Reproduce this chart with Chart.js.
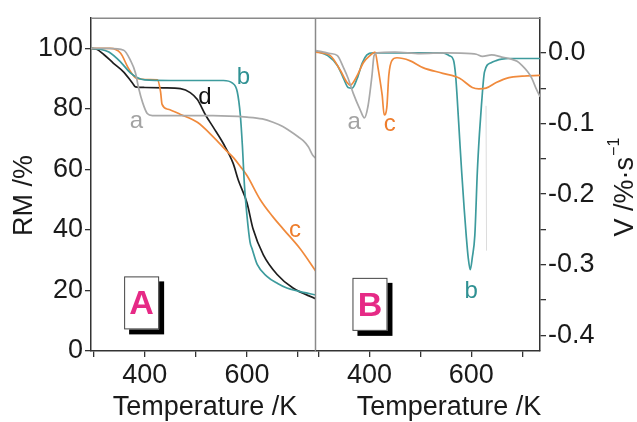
<!DOCTYPE html>
<html>
<head>
<meta charset="utf-8">
<script src="https://cdn.jsdelivr.net/npm/chart.js@4/dist/chart.umd.min.js"></script>
<style>
  body { margin: 0; background: #fff; }
  #wrap { position: relative; width: 637px; height: 422px; overflow: hidden; }
  canvas { position: absolute; top: 0; }
  #chartA { left: 0; }
  #chartB { left: 316px; }
</style>
</head>
<body>
<div id="wrap">
  <canvas id="chartA" width="320" height="422" style="width:320px;height:422px"></canvas>
  <canvas id="chartB" width="321" height="422" style="width:321px;height:422px"></canvas>
</div>
<script>
// panel A: residual mass (RM %) vs temperature (K)
const aTempA = [295, 330, 359, 372, 382, 388, 396, 405, 415, 450, 534, 600, 630, 651, 670, 684, 700, 710, 720, 729, 735];
const aRM    = [100, 100, 99.4, 96.1, 91.9, 87, 82.1, 78.5, 77.8, 77.8, 77.8, 77.3, 76.7, 75.6, 74.2, 72.7, 70.8, 69.5, 67.5, 64.6, 63.6];

const bTempA = [295, 310, 330, 353, 372, 386, 400, 450, 554, 571, 581, 587, 591, 595, 600, 606, 610, 620, 639, 660, 678, 700, 735];
const bRM    = [100, 99.8, 98.8, 95.5, 91.9, 90.3, 89.6, 89.4, 89.4, 88.6, 85.7, 78, 68, 55, 44.8, 36, 33.8, 28.6, 24.7, 22.3, 20.8, 19.8, 18.5];

const cTempA = [295, 333, 353, 368, 382, 392, 410, 425, 431, 434, 446, 470, 503, 534, 561, 573, 587, 600, 626, 650, 671, 704, 735];
const cRM    = [100, 100, 98.4, 93.5, 90.3, 89.9, 89.7, 89.6, 85.7, 81.5, 79.9, 78.2, 75.6, 70.8, 66, 64, 61, 58, 50, 44.5, 40.3, 33.8, 26.3];

const dTempA = [295, 305, 320, 339, 359, 376, 382, 400, 437, 470, 489, 503, 519, 534, 554, 573, 583, 600, 612, 632, 659, 690, 735];
const dRM    = [100, 99.8, 98, 95.1, 92.2, 88.6, 87.3, 87.1, 87, 86.7, 85.4, 83.1, 78, 74, 68.5, 62, 56.5, 49, 40.3, 31.8, 25.3, 20.8, 17.2];

// panel B: mass loss rate V (%/s) vs temperature (K)
const aTempB = [295, 310, 323, 337, 349, 358, 368, 382, 390, 397, 405, 409, 415, 450, 500, 550, 600, 610, 622, 640, 660, 674, 690, 700, 710, 719, 727, 735];
const aV     = [0.003, 0.001, -0.001, -0.004, -0.021, -0.036, -0.057, -0.081, -0.092, -0.076, -0.032, -0.004, 0, 0.001, -0.001, 0, -0.001, -0.002, -0.005, -0.003, -0.006, -0.008, -0.012, -0.018, -0.026, -0.036, -0.05, -0.062];

const bTempB = [295, 318, 337, 349, 358, 366, 376, 386, 395, 407, 450, 500, 544, 557, 565, 569, 572, 577, 581, 586, 590, 594, 598, 602, 607, 612, 616, 620, 626, 639, 649, 660, 674, 700, 735];
const bV     = [0.002, -0.004, -0.018, -0.036, -0.049, -0.05, -0.036, -0.014, -0.003, 0, 0, 0, 0, -0.004, -0.01, -0.03, -0.06, -0.12, -0.167, -0.22, -0.258, -0.29, -0.307, -0.29, -0.258, -0.167, -0.115, -0.074, -0.027, -0.014, -0.011, -0.009, -0.008, -0.008, -0.008];

const cTempB = [295, 323, 343, 356, 362, 376, 388, 401, 411, 417, 421, 425, 429, 434, 438, 444, 454, 479, 505, 544, 577, 602, 615, 629, 649, 674, 700, 735];
const cV     = [0.001, -0.004, -0.025, -0.042, -0.046, -0.032, -0.014, -0.004, 0.001, -0.022, -0.04, -0.06, -0.088, -0.078, -0.032, -0.011, -0.007, -0.011, -0.021, -0.029, -0.036, -0.049, -0.051, -0.05, -0.042, -0.035, -0.033, -0.032];

// faint vertical trace near 630 K in panel B
const traceTemp = [629, 630];
const traceV    = [-0.075, -0.28];

const xTickLabels = [400, 600];
const yTickLabelsA = [0, 20, 40, 60, 80, 100];
const yTickLabelsB = ['0.0', '-0.1', '-0.2', '-0.3', '-0.4'];

const FONT = '"Liberation Sans", Arial, Helvetica, sans-serif';
const COL = { a: '#a9a9a9', b: '#3d9b9d', c: '#f08a3c', d: '#1e1e1e' };

const pts = (xs, ys) => xs.map((x, i) => ({ x, y: ys[i] }));
const line = (data, color, w) => ({
  data, borderColor: color, borderWidth: w || 1.7, pointRadius: 0,
  cubicInterpolationMode: 'monotone', fill: false
});

const xAxis = (extra) => Object.assign({
  type: 'linear', min: 295, max: 735,
  afterFit: s => { s.height = 71; },
  ticks: {
    stepSize: 100, includeBounds: false, maxRotation: 0, autoSkip: false, padding: 2,
    color: '#1a1a1a', font: { family: FONT, size: 27 },
    callback: v => xTickLabels.includes(v) ? String(v) : ''
  },
  grid: { drawOnChartArea: false, drawTicks: true, tickLength: 6, color: '#333', lineWidth: 1.3 },
  border: { display: true, color: '#333', width: 1.5 }
}, extra);

const deco = {
  id: 'deco',
  afterDraw(chart, args, o) {
    const { ctx, chartArea: ca, scales } = chart;
    const xs = scales.x, ys = scales.y;
    ctx.save();
    // frame lines
    ctx.strokeStyle = '#8a8a8a';
    ctx.lineWidth = 1.5;
    ctx.beginPath();
    ctx.moveTo(ca.left, ca.top);
    ctx.lineTo(ca.right, ca.top);
    if (o.side === 'A') {
      ctx.moveTo(ca.right - 0.5, ca.top);
      ctx.lineTo(ca.right - 0.5, ca.bottom);
    }
    ctx.stroke();

    // curve labels
    ctx.font = '24px ' + FONT;
    ctx.textAlign = 'center';
    ctx.textBaseline = 'middle';
    o.labels.forEach(l => {
      ctx.fillStyle = l.color;
      ctx.fillText(l.text, xs.getPixelForValue(l.x), ys.getPixelForValue(l.y));
    });

    // panel letter box with shadow
    const bx = xs.getPixelForValue(o.box.x), by = ys.getPixelForValue(o.box.y);
    const w = 35, h = 53;
    ctx.fillStyle = '#000';
    ctx.fillRect(bx - w / 2 + 5, by - h / 2 + 5, w, h);
    ctx.fillStyle = '#fff';
    ctx.fillRect(bx - w / 2, by - h / 2, w, h);
    ctx.strokeStyle = '#444';
    ctx.lineWidth = 1;
    ctx.strokeRect(bx - w / 2 + 0.5, by - h / 2 + 0.5, w - 1, h - 1);
    ctx.fillStyle = '#e62a86';
    ctx.font = 'bold 34px ' + FONT;
    ctx.fillText(o.box.text, bx, by + 2);

    // axis titles
    ctx.fillStyle = '#1a1a1a';
    ctx.font = '27px ' + FONT;
    ctx.textBaseline = 'alphabetic';
    ctx.fillText('Temperature /K', o.xTitleX, 415);
    ctx.translate(o.yTitleX, (ca.top + ca.bottom) / 2 + o.yTitleDy);
    ctx.rotate(-Math.PI / 2);
    ctx.textBaseline = 'middle';
    if (o.side === 'A') {
      ctx.fillText('RM /%', 0, 0);
    } else {
      const main = 'V /%\u00b7s';
      const mw = ctx.measureText(main).width;
      ctx.font = '16px ' + FONT;
      const sw = ctx.measureText('\u22121').width;
      ctx.font = '27px ' + FONT;
      ctx.textAlign = 'left';
      ctx.fillText(main, -(mw + sw) / 2, 0);
      ctx.font = '16px ' + FONT;
      ctx.fillText('\u22121', -(mw + sw) / 2 + mw + 1, -11);
    }
    ctx.restore();
  }
};

new Chart(document.getElementById('chartA'), {
  type: 'line',
  data: {
    datasets: [
      line(pts(aTempA, aRM), COL.a),
      line(pts(bTempA, bRM), COL.b),
      line(pts(cTempA, cRM), COL.c),
      line(pts(dTempA, dRM), COL.d)
    ]
  },
  options: {
    responsive: false, animation: false,
    layout: { padding: { top: 12, right: 4, left: 0, bottom: 0 } },
    plugins: {
      legend: { display: false }, tooltip: { enabled: false },
      deco: {
        side: 'A', xTitleX: 205, yTitleX: 25, yTitleDy: 11,
        labels: [
          { text: 'a', x: 384, y: 76, color: '#a3a3a3' },
          { text: 'b', x: 593, y: 90.3, color: '#2f9193' },
          { text: 'c', x: 694, y: 40, color: '#ee7d2c' },
          { text: 'd', x: 518, y: 83.8, color: '#111' }
        ],
        box: { text: 'A', x: 394, y: 15.9 }
      }
    },
    scales: {
      x: xAxis({ position: 'bottom' }),
      y: {
        type: 'linear', position: 'left', min: 0, max: 110,
        afterFit: s => { s.width = 91; },
        ticks: {
          stepSize: 10, includeBounds: false, padding: 2,
          color: '#1a1a1a', font: { family: FONT, size: 27 },
          callback: v => yTickLabelsA.includes(v) ? String(v) : ''
        },
        grid: { drawOnChartArea: false, drawTicks: true, tickLength: 6, color: '#333', lineWidth: 1.3 },
        border: { display: true, color: '#333', width: 1.5 }
      }
    }
  },
  plugins: [deco]
});

new Chart(document.getElementById('chartB'), {
  type: 'line',
  data: {
    datasets: [
      line(pts(traceTemp, traceV), '#dcdcdc', 1),
      line(pts(aTempB, aV), COL.a),
      line(pts(cTempB, cV), COL.c),
      line(pts(bTempB, bV), COL.b)
    ]
  },
  options: {
    responsive: false, animation: false,
    layout: { padding: { top: 12, right: 0, left: 0, bottom: 0 } },
    plugins: {
      legend: { display: false }, tooltip: { enabled: false },
      deco: {
        side: 'B', xTitleX: 133, yTitleX: 310, yTitleDy: 3,
        labels: [
          { text: 'a', x: 370, y: -0.099, color: '#a3a3a3' },
          { text: 'c', x: 440, y: -0.101, color: '#ee7d2c' },
          { text: 'b', x: 600, y: -0.3375, color: '#2f9193' }
        ],
        box: { text: 'B', x: 401, y: -0.356 }
      }
    },
    scales: {
      x: xAxis({ position: 'bottom' }),
      y: {
        type: 'linear', position: 'right', min: -0.422, max: 0.049,
        afterFit: s => { s.width = 97; },
        ticks: {
          stepSize: 0.05, includeBounds: false, padding: 2,
          color: '#1a1a1a', font: { family: FONT, size: 27 },
          callback: v => {
            const hit = yTickLabelsB.find(t => Math.abs(parseFloat(t) - v) < 1e-6);
            return hit !== undefined ? hit : '';
          }
        },
        grid: { drawOnChartArea: false, drawTicks: true, tickLength: 6, color: '#333', lineWidth: 1.3 },
        border: { display: true, color: '#333', width: 1.5 }
      }
    }
  },
  plugins: [deco]
});
</script>
</body>
</html>
